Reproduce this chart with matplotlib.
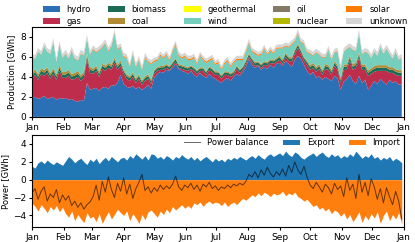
import numpy as np
import pandas as pd
import matplotlib
matplotlib.use("Agg")
import matplotlib.pyplot as plt
import matplotlib.dates as mdates

plt.rcParams['font.size'] = 6

# 3-daily values (GWh)
dates = pd.date_range('2019-01-01', periods=122, freq='3D')

hydro = [1.9, 2.0, 1.8, 1.9, 2.1, 1.8, 1.9, 2.0, 1.7, 1.9, 1.8,
         1.9, 1.7, 1.8, 1.6, 1.5, 1.7, 1.6, 3.4, 2.7,
         2.8, 2.9, 2.6, 2.9, 3.0, 2.8, 3.2, 3.1, 3.4, 4.2,
         3.3, 3.0, 2.9, 3.1, 2.8, 3.0, 2.7, 2.9, 3.2, 2.8,
         3.9, 4.3, 4.5, 4.4, 4.7, 4.6, 4.9, 5.3, 4.8, 4.6, 4.5,
         4.3, 4.6, 4.2, 4.0, 4.4, 4.1, 3.9, 4.3, 4.0, 3.8,
         3.6, 3.4, 3.7, 3.9, 3.6, 4.0, 4.3, 4.1, 4.5, 5.0,
         5.8, 5.2, 4.9, 5.1, 4.7, 5.0, 4.8, 5.2, 4.9, 5.3,
         5.4, 5.1, 5.6, 5.3, 5.0, 5.7, 6.1, 5.8, 5.2, 4.6,
         4.2, 4.5, 3.9, 4.1, 3.7, 4.0, 3.8, 3.6, 4.1, 3.9, 2.7,
         3.5, 3.8, 4.2, 3.6, 3.3, 4.1, 3.4, 3.7, 2.7, 3.1,
         3.6, 3.3, 3.8, 3.5, 3.2, 3.7, 3.4, 3.6, 3.2, 3.3]
gas = [1.8, 2.2, 1.9, 2.4, 2.0, 2.6, 1.9, 2.3, 2.0, 2.7, 2.1,
       2.0, 2.4, 1.9, 2.2, 2.5, 1.9, 2.3, 2.3, 1.7,
       1.5, 1.7, 1.4, 1.9, 1.6, 2.1, 1.5, 2.3, 1.3, 0.9,
       1.0, 0.8, 0.7, 0.9, 0.6, 0.8, 0.5, 0.7, 0.6, 0.5,
       0.4, 0.3, 0.2, 0.3, 0.2, 0.1, 0.2, 0.2, 0.1, 0.2, 0.2,
       0.3, 0.2, 0.4, 0.3, 0.2, 0.5, 0.3, 0.4, 0.5, 0.4,
       0.6, 0.4, 0.5, 0.3, 0.4, 0.2, 0.5, 0.3, 0.2, 0.3,
       0.2, 0.3, 0.2, 0.1, 0.2, 0.2, 0.3, 0.2, 0.4, 0.2,
       0.3, 0.2, 0.4, 0.3, 0.5, 0.6, 0.8, 0.5, 0.4, 0.6,
       0.5, 0.4, 0.6, 0.7, 0.5, 0.8, 0.9, 0.6, 1.0, 0.8, 0.7,
       1.2, 0.9, 1.4, 1.1, 1.6, 1.8, 1.3, 1.0, 1.4, 1.2,
       0.9, 1.3, 0.8, 1.1, 1.4, 0.7, 1.0, 0.6, 0.9, 0.8]
wind = [1.6, 1.0, 2.2, 1.3, 2.4, 1.5, 1.9, 2.6, 1.2, 2.0, 1.4,
        1.8, 1.1, 2.3, 1.4, 1.0, 2.1, 1.6, 1.5, 1.2,
        1.9, 1.3, 2.1, 1.6, 2.2, 1.1, 1.8, 2.4, 1.5, 1.3,
        1.2, 1.6, 0.9, 1.8, 1.1, 1.4, 1.0, 1.9, 1.2, 1.5,
        0.8, 0.6, 1.0, 0.7, 0.9, 0.5, 1.0, 1.3, 0.8, 0.6, 0.9,
        0.7, 0.5, 0.9, 0.6, 1.1, 0.7, 0.8, 0.5, 0.9, 0.6,
        0.8, 0.5, 0.7, 1.0, 0.6, 0.8, 0.5, 0.9, 0.6, 0.8,
        1.0, 0.6, 0.8, 0.5, 0.9, 1.2, 0.7, 0.8, 0.6, 0.9,
        0.7, 1.1, 0.6, 0.9, 1.3, 0.8, 1.0, 0.7, 1.2, 0.8,
        1.1, 0.7, 1.4, 0.9, 1.2, 0.6, 1.5, 1.0, 0.8, 1.3, 0.9,
        1.2, 1.5, 0.8, 1.4, 1.1, 1.9, 1.0, 1.2, 1.7, 1.0,
        1.4, 0.9, 1.8, 1.1, 1.6, 1.3, 0.8, 1.7, 1.0, 1.2]

# small carriers, monthly values (Jan..Dec)
biomass_m = [0.32, 0.33, 0.30, 0.28, 0.25, 0.24, 0.24, 0.25, 0.27, 0.29, 0.31, 0.32]
coal_m = [0.25, 0.26, 0.22, 0.18, 0.14, 0.12, 0.12, 0.13, 0.16, 0.20, 0.24, 0.25]
geothermal_m = [0.0] * 12
oil_m = [0.04, 0.04, 0.04, 0.03, 0.03, 0.03, 0.03, 0.03, 0.03, 0.04, 0.04, 0.04]
nuclear_m = [0.0] * 12
solar_m = [0.02, 0.04, 0.07, 0.10, 0.13, 0.14, 0.14, 0.12, 0.09, 0.06, 0.03, 0.02]
unknown_m = [0.35, 0.35, 0.33, 0.30, 0.28, 0.28, 0.28, 0.28, 0.30, 0.32, 0.35, 0.36]

export = [1.5, 1.3, 1.9, 2.1, 1.8, 2.2, 1.9, 1.7, 2.0, 1.8, 1.6,
          2.1, 2.6, 2.3, 1.9, 2.2, 2.4, 2.0, 1.7, 2.3,
          2.0, 2.4, 1.8, 2.2, 2.5, 2.1, 2.6, 2.3, 2.0, 2.4,
          2.5, 2.2, 2.7, 2.4, 2.9, 2.6, 2.3, 2.7, 2.2, 2.9,
          2.8, 2.4, 2.6, 2.3, 2.7, 2.5, 2.2, 2.6, 2.4, 2.8, 2.5,
          2.3, 2.6, 2.2, 2.5, 2.1, 2.4, 2.6, 2.3, 2.0, 2.4,
          2.1, 2.3, 2.0, 2.4, 2.2, 2.5, 2.3, 2.6, 2.4, 2.2,
          2.5, 2.7, 2.4, 2.8, 2.5, 2.3, 2.7, 2.9, 2.6, 2.8,
          3.0, 2.7, 3.2, 2.8, 2.6, 3.1, 2.9, 2.5, 2.3, 2.6,
          2.8, 3.0, 2.6, 2.9, 3.1, 2.7, 2.5, 2.9, 2.6, 2.8, 2.4,
          2.7, 2.5, 2.9, 2.6, 3.2, 2.8, 2.4, 2.7, 2.5, 2.9,
          2.4, 2.6, 2.2, 2.5, 2.3, 2.6, 2.1, 2.4, 2.2, 1.9]
imports = [-2.6, -3.0, -3.5, -2.8, -3.2, -3.7, -3.0, -3.4, -2.9, -3.6, -3.1,
           -3.8, -4.2, -3.5, -4.6, -3.9, -4.4, -4.8, -3.7, -4.3,
           -4.1, -4.7, -3.8, -4.9, -4.2, -3.6, -4.4, -3.9, -3.3, -3.7,
           -4.0, -3.5, -4.6, -3.8, -4.3, -4.9, -3.9, -4.5, -3.6, -3.4,
           -3.8, -4.2, -3.5, -3.9, -3.3, -3.7, -3.0, -3.4, -3.1, -2.8, -3.2,
           -2.9, -3.2, -2.6, -2.8, -2.5, -3.0, -2.6, -2.4, -2.7, -2.5,
           -2.6, -2.9, -2.5, -3.0, -2.7, -2.5, -2.8, -2.4, -2.1, -2.3,
           -2.0, -1.7, -1.9, -1.5, -1.8, -1.4, -1.6, -1.9, -1.5, -1.7,
           -1.6, -1.3, -1.8, -1.5, -1.7, -1.4, -1.9, -2.1, -2.4, -2.2,
           -2.6, -3.0, -2.8, -3.3, -3.1, -3.5, -3.2, -3.8, -3.4, -3.6, -4.1,
           -3.7, -4.4, -3.9, -4.7, -4.2, -3.6, -4.8, -4.0, -4.5, -3.8,
           -4.3, -3.6, -4.9, -4.0, -3.5, -4.6, -3.9, -4.4, -3.7, -5.0]
balance = [-1.5, -1.0, -2.2, -1.3, -0.8, -2.4, -1.6, -2.0, -1.1, -2.6, -1.7,
           -2.3, -1.8, -2.9, -2.4, -3.1, -2.6, -3.3, -2.8, -2.5,
           -1.9, -0.6, -2.3, -0.2, -1.4, 0.3, -1.1, -2.0, -0.4, -1.3,
           0.2, -1.6, -0.5, -2.1, -1.0, -0.3, 0.6, -1.2, -0.8, -1.5,
           -0.9, -1.3, -0.6, -1.1, -0.7, -1.0, -0.5, 0.4, -0.8, -1.2, -0.6,
           -0.9, -0.4, -1.1, -0.6, -1.3, -0.5, -0.8, -0.3, -1.0, -0.7,
           -1.2, -0.8, -1.0, -0.6, -0.9, -0.5, -0.7, -0.4, -0.6, -0.2,
           0.6, 0.3, 0.9, 0.2, 1.1, 0.5, 1.4, 0.7, 0.3, 0.9,
           0.5, 1.2, 0.4, 1.6, 0.8, 2.0, 1.1, 0.6, 1.5, 0.3,
           -0.6, -1.0, -0.3, -0.8, -1.4, -0.5, -0.9, -1.6, -0.4, -1.1, -0.7,
           -1.9, 0.2, -1.2, -0.5, -2.1, 0.6, -1.4, -0.3, -1.8, 0.1,
           -0.8, -2.2, -1.0, -2.6, -0.9, -1.9, -2.8, -1.3, -2.4, -4.4]

carriers = ['hydro', 'gas', 'biomass', 'coal', 'geothermal',
            'wind', 'oil', 'nuclear', 'solar', 'unknown']
colors = ['#2b70b4', '#be2d4b', '#1b6b56', '#b08a34', '#ffff00',
          '#74d0bc', '#857a66', '#b4b800', '#ff7b00', '#d6d6d6']

# monthly carriers looked up per date
m = dates.month.values - 1
layers = [hydro, gas, np.array(biomass_m)[m], np.array(coal_m)[m],
          np.array(geothermal_m)[m], wind, np.array(oil_m)[m],
          np.array(nuclear_m)[m], np.array(solar_m)[m], np.array(unknown_m)[m]]

fig = plt.figure(figsize=(4.15, 2.42), dpi=100)
ax1 = fig.add_axes([0.077, 0.517, 0.896, 0.372])
ax2 = fig.add_axes([0.077, 0.062, 0.896, 0.380])

#Production
ax1.stackplot(dates, *layers, labels=carriers, colors=colors, lw=0)
ax1.set_ylim(0, 9)
ax1.set_yticks([0, 2, 4, 6, 8])
ax1.set_ylabel('Production [GWh]', labelpad=3)
ax1.legend(loc='lower center', bbox_to_anchor=(0.52, 1.0), ncol=5, frameon=False,
           handlelength=2.0, columnspacing=2.1, labelspacing=0.35,
           borderpad=0.1, borderaxespad=0.05)

#Power balance
ax2.plot(dates, balance, color='k', lw=0.7, alpha=0.6, label='Power balance')
ax2.fill_between(dates, 0, export, color='#1f77b4', lw=0, label='Export')
ax2.fill_between(dates, imports, 0, color='#ff7f0e', lw=0, label='Import')
ax2.set_ylim(-5.3, 5)
ax2.set_yticks([-4, -2, 0, 2, 4])
ax2.set_ylabel('Power [GWh]', labelpad=2)
ax2.legend(loc='upper right', ncol=3, frameon=False, borderpad=0.2,
           borderaxespad=0.2, handlelength=2.0, columnspacing=1.8)

for ax in (ax1, ax2):
    ax.set_xlim(pd.Timestamp('2019-01-01'), pd.Timestamp('2020-01-01'))
    ax.xaxis.set_major_locator(mdates.MonthLocator())
    ax.xaxis.set_major_formatter(mdates.DateFormatter('%b'))
    ax.tick_params(labelsize=6.5, length=2.5, pad=2)

fig.savefig('out.png', dpi=100)
